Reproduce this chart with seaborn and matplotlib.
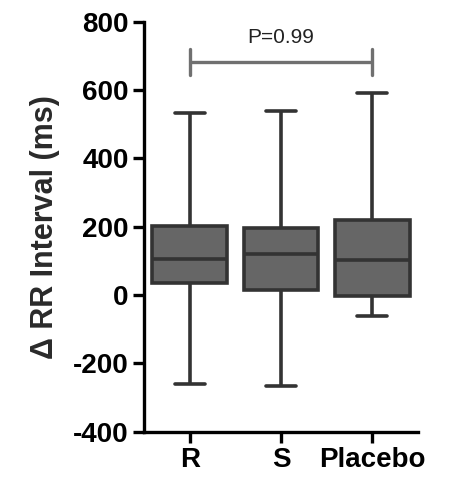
import matplotlib
matplotlib.use("Agg")
import matplotlib.pyplot as plt
import seaborn as sns
import pandas as pd

# Five-number summaries (min, Q1, median, Q3, max)
groups = ["R", "S", "Placebo"]
mins = [-261, -266, -61]
q1s = [34, 15, -2]
medians = [107, 120, 102]
q3s = [202, 195, 219]
maxs = [533, 539, 590]

y_ticks = [-400, -200, 0, 200, 400, 600, 800]
p_text = "P=0.99"
bracket_y = 683
bracket_tick_lo = 644
bracket_tick_hi = 720
p_text_y = 727

rows = []
for g, a, b, c, d, e in zip(groups, mins, q1s, medians, q3s, maxs):
    for v in (a, b, c, d, e):
        rows.append({"group": g, "value": v})
df = pd.DataFrame(rows)

sns.set_style("ticks")
plt.rcParams["font.family"] = ["Liberation Sans", "DejaVu Sans"]

fig = plt.figure(figsize=(4.5, 4.83), dpi=100)
ax = fig.add_axes([0.32, 0.106, 0.609, 0.849])

sns.boxplot(data=df, x="group", y="value", order=groups, whis=(0, 100),
            color="#666666", saturation=1, linecolor="#333333", linewidth=2.6,
            width=0.82, capwidths=0.33, ax=ax)

# significance bracket
gray = "#707070"
ax.plot([0, 2], [bracket_y, bracket_y], color=gray, lw=2.4, solid_capstyle="butt")
ax.plot([0, 0], [bracket_tick_lo, bracket_tick_hi], color=gray, lw=2.4)
ax.plot([2, 2], [bracket_tick_lo, bracket_tick_hi], color=gray, lw=2.4)
ax.text(1, p_text_y, p_text, ha="center", va="bottom", fontsize=15, color="#222222")

ax.set_ylim(-400, 800)
ax.set_xlim(-0.5, 2.5)
ax.set_yticks(y_ticks)
ax.set_yticklabels([str(t) for t in y_ticks])
ax.set_xlabel("")
ax.set_ylabel("\u0394 RR Interval (ms)", fontsize=22, fontweight="bold", color="#2a2a2a", labelpad=9)

for lab in ax.get_xticklabels() + ax.get_yticklabels():
    lab.set_fontweight("bold")
    lab.set_fontsize(20)
    lab.set_color("black")

ax.tick_params(axis="both", length=8, width=2.4, color="black", pad=3)
for s in ["left", "bottom"]:
    ax.spines[s].set_linewidth(2.4)
    ax.spines[s].set_color("black")
sns.despine(ax=ax)

fig.savefig("out.png", dpi=100)
